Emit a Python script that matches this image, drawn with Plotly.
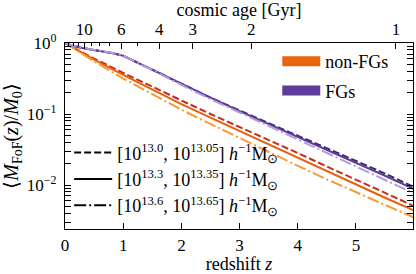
import numpy as np
import plotly.graph_objects as go

# ---------------- data ----------------
z_nonfg = [0, 0.5, 1.0, 1.5, 2.0, 2.5, 3.0, 3.5, 4.0, 4.5, 5.0, 5.5, 6.0]
nonfg_low = [1, 0.603, 0.380, 0.240, 0.155, 0.100, 0.0661, 0.0427, 0.0282, 0.0182, 0.0120, 0.00776, 0.00501]
nonfg_mid = [1, 0.582, 0.355, 0.219, 0.138, 0.0891, 0.0575, 0.0372, 0.0240, 0.0155, 0.0102, 0.00661, 0.00437]
nonfg_high = [1, 0.550, 0.316, 0.191, 0.115, 0.0724, 0.0457, 0.0288, 0.0186, 0.0120, 0.00794, 0.00525, 0.00347]

z_fg = [0, 0.1, 0.3, 0.6, 0.8, 1.0, 1.2, 1.5, 2.0, 2.5, 3.0, 3.5, 4.0, 4.5, 5.0, 5.5, 6.0]
fg_low = [1, 0.933, 0.851, 0.776, 0.724, 0.661, 0.550, 0.417, 0.263, 0.170, 0.112, 0.0741, 0.0501, 0.0331, 0.0219, 0.0145, 0.00933]
fg_mid = [1, 0.930, 0.848, 0.776, 0.724, 0.661, 0.550, 0.417, 0.263, 0.170, 0.110, 0.0724, 0.0479, 0.0316, 0.0204, 0.0135, 0.00871]
fg_high = [1, 0.935, 0.855, 0.780, 0.730, 0.665, 0.555, 0.417, 0.257, 0.162, 0.105, 0.0676, 0.0437, 0.0282, 0.0182, 0.0117, 0.00759]

mass_bins = [
    "[10<sup>13.0</sup>, 10<sup>13.05</sup>] <i>h</i><sup>−1</sup>M<sub>⊙</sub>",
    "[10<sup>13.3</sup>, 10<sup>13.35</sup>] <i>h</i><sup>−1</sup>M<sub>⊙</sub>",
    "[10<sup>13.6</sup>, 10<sup>13.65</sup>] <i>h</i><sup>−1</sup>M<sub>⊙</sub>",
]
group_names = ["non-FGs", "FGs"]
x_ticks = [0, 1, 2, 3, 4, 5]
age_ticks = [10, 6, 4, 3, 2, 1]
age_minor = [13, 12, 11, 9, 8, 7, 5]
y_ticks = [1, 0.1, 0.01]
y_ticktext = ["10<sup>0</sup>", "10<sup>−1</sup>", "10<sup>−2</sup>"]

# ---------------- styles ----------------
FONT = "Liberation Serif"
DASH = "7px,3px"
DASHDOT = "12px,3px,2px,3px"
nonfg_colors = ["#c62d1a", "#e6600d", "#fd9830"]
fg_colors = ["#3c2a5c", "#5e3c99", "#b39ae0"]
dashes = [DASH, "solid", DASHDOT]
patch_colors = ["#e8650e", "#5e3c99"]


def z_of_age(t, H0=67.74, Om=0.3089):
    OL = 1 - Om
    th = 977.8 / H0
    pref = 2.0 / (3.0 * np.sqrt(OL)) * th
    x = np.sinh(np.asarray(t, float) / pref) / np.sqrt(OL / Om)
    return x ** (-2.0 / 3.0) - 1


fig = go.Figure()

series = [
    (z_nonfg, nonfg_low, nonfg_colors[0], dashes[0]),
    (z_nonfg, nonfg_mid, nonfg_colors[1], dashes[1]),
    (z_nonfg, nonfg_high, nonfg_colors[2], dashes[2]),
    (z_fg, fg_low, fg_colors[0], dashes[0]),
    (z_fg, fg_mid, fg_colors[1], dashes[1]),
    (z_fg, fg_high, fg_colors[2], dashes[2]),
]
for zz, yy, c, d in series:
    fig.add_trace(go.Scatter(x=zz, y=yy, mode="lines", showlegend=False,
                             line=dict(color=c, width=2, dash=d)))

# colour legend (top right)
for i, (name, c) in enumerate(zip(group_names, patch_colors)):
    fig.add_trace(go.Scatter(x=[None], y=[None], mode="lines", name=name,
                             legend="legend", legendgroup="c%d" % i,
                             line=dict(color=c, width=14)))
# line-style legend (bottom left)
for i, (lab, d) in enumerate(zip(mass_bins, dashes)):
    fig.add_trace(go.Scatter(x=[None], y=[None], mode="lines", name=lab,
                             legend="legend2", legendgroup="m%d" % i,
                             line=dict(color="black", width=2, dash=d)))

# invisible trace for the top axis
fig.add_trace(go.Scatter(x=[0, 5.98], y=[1, 1], xaxis="x2", mode="lines",
                         line=dict(width=0), showlegend=False, hoverinfo="skip"))

minor_y = [k * 10.0 ** e for e in (-3, -2, -1) for k in range(2, 10)]

fig.update_layout(
    width=416, height=274,
    margin=dict(l=65, r=3, t=43, b=45),
    paper_bgcolor="white", plot_bgcolor="white",
    font=dict(family=FONT, size=17, color="black"),
    xaxis=dict(range=[0, 5.98], tickvals=x_ticks, ticks="inside", ticklen=6,
               tickcolor="black", showline=True, linecolor="black", linewidth=1.3,
               showgrid=False, zeroline=False, mirror=False, automargin=False,
               title=dict(text="redshift <i>z</i>", standoff=13,
                          font=dict(family=FONT, size=18))),
    xaxis2=dict(range=[0, 5.98], overlaying="x", side="top", anchor="y", automargin=False,
                tickvals=list(z_of_age(age_ticks)), ticktext=[str(a) for a in age_ticks],
                ticks="inside", ticklen=6, tickcolor="black",
                minor=dict(tickmode="array", tickvals=list(z_of_age(age_minor)),
                           ticks="inside", ticklen=3, tickcolor="black"),
                showline=True, linecolor="black", linewidth=1.3, showgrid=False, zeroline=False,
                title=dict(text="cosmic age [Gyr]", standoff=8,
                           font=dict(family=FONT, size=18))),
    yaxis=dict(type="log", range=[np.log10(0.0024), 0], tickvals=y_ticks, ticktext=y_ticktext,
               ticks="inside", ticklen=6, tickcolor="black", automargin=False,
               minor=dict(tickmode="array", tickvals=minor_y, ticks="inside", ticklen=3,
                          tickcolor="black"),
               showline=True, linecolor="black", linewidth=1.3, mirror="allticks",
               showgrid=False, zeroline=False, ticklabelstandoff=4,
               title=dict(text="⟨<i>M</i><sub>FoF</sub>(<i>z</i>)/<i>M</i><sub>0</sub>⟩", standoff=2)),
    legend=dict(x=0.61, y=1.0, xanchor="left", yanchor="top", bgcolor="rgba(0,0,0,0)",
                font=dict(size=18), tracegroupgap=3, itemwidth=38),
    legend2=dict(x=0.012, y=0.025, xanchor="left", yanchor="bottom", bgcolor="rgba(0,0,0,0)",
                 font=dict(size=18), tracegroupgap=0, itemwidth=38),
)

fig.write_html("out.html", config={"displayModeBar": False},
               post_script="document.body.style.margin='0';")
